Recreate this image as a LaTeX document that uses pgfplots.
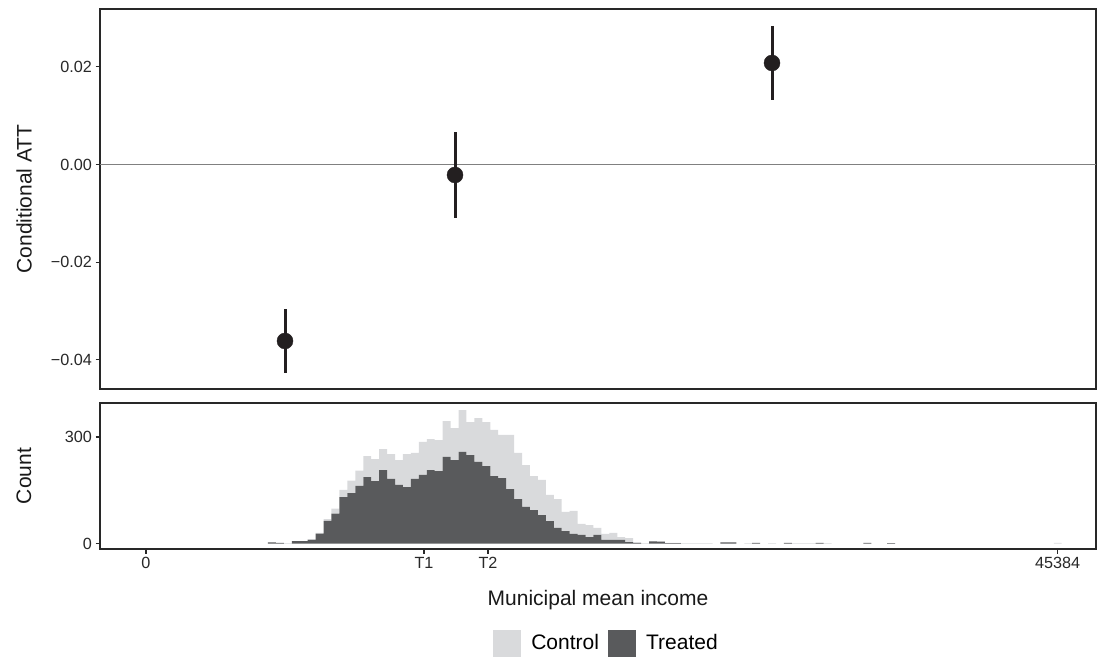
\documentclass[border=0pt]{standalone}
\usepackage{fontspec}
\setmainfont{Liberation Sans}
\usepackage{pgfplots}
\usepackage{pgfplotstable}
\pgfplotsset{compat=1.18}
\definecolor{ctrl}{RGB}{217,218,220}
\definecolor{trt}{RGB}{89,90,92}
\definecolor{ptc}{RGB}{35,31,32}
\definecolor{axc}{RGB}{40,40,40}

% histogram bins: centre, treated count, control count
\pgfplotstableread{
x T C
6270 3 0
6665 2 0
7060 0 1
7455 7 0
7851 7 0
8246 10 2
8641 28 2
9036 64 5
9431 84 14
9826 131 20
10221 142 35
10616 162 43
11012 187 59
11407 176 62
11802 207 59
12197 182 70
12592 165 70
12987 159 93
13383 182 73
13778 193 93
14173 207 87
14568 204 87
14963 244 101
15358 235 90
15754 258 118
16149 249 93
16544 230 123
16939 218 124
17334 190 130
17729 184 122
18124 153 153
18520 125 130
18915 103 118
19310 94 96
19705 80 99
20100 63 74
20495 44 81
20890 35 54
21285 27 65
21681 24 31
22076 18 34
22471 24 20
22866 10 17
23261 10 20
23656 10 8
24051 4 11
24446 1 3
24842 0 1
25237 6 1
25632 5 1
26027 1 1
26422 1 1
26817 0 1
27212 0 1
27608 0 1
28003 0 1
28793 3 0
29188 3 0
29978 0 1
30374 2 0
31164 0 1
31954 2 0
32349 0 1
32744 0 1
33140 0 1
33535 2 0
33930 0 1
35906 2 0
37091 1 0
45384 0 2
}\histdata

\begin{document}
\begin{tikzpicture}[x=1pt,y=1pt]
\useasboundingbox (0,0) rectangle (1097,657);
\pgfplotsset{
  every axis/.append style={
    scale only axis, width=996pt, xmin=-2290, xmax=47290,
    scaled x ticks=false, scaled y ticks=false,
    axis line style={line width=1.1pt, color=axc},
    tick style={line width=1.1pt, color=axc},
    tick align=outside, major tick length=4.5pt,
    xtick pos=bottom, ytick pos=left,
    ticklabel style={font=\fontsize{16.2}{19}\selectfont, text=axc},
    label style={font=\fontsize{21}{25}\selectfont, text=black!90},
  }
}
\begin{axis}[at={(100pt,268pt)}, anchor=south west, height=380pt,
  ymin=-0.04596, ymax=0.03183,
  xtick=\empty,
  ytick={-0.04,-0.02,0,0.02},
  yticklabels={−0.04,−0.02,0.00,0.02},
  ylabel={Conditional ATT},
  ylabel style={at={(axis description cs:-0.0763,0.5)}, anchor=center},
]
\addplot[color=black!50, line width=1.4pt] coordinates {(-2290,0) (47290,0)};
\addplot[ptc, line width=3pt] coordinates {(6919,-0.02964) (6919,-0.04274)};
\addplot[ptc, line width=3pt] coordinates {(15382,0.00665) (15382,-0.01095)};
\addplot[ptc, line width=3pt] coordinates {(31162,0.02835) (31162,0.0132)};
\addplot[only marks, mark=*, mark size=8pt, color=ptc] coordinates {(6919,-0.03613) (15382,-0.00215) (31162,0.02078)};
\end{axis}

\begin{axis}[at={(100pt,108pt)}, anchor=south west, height=146pt,
  ymin=-15.5, ymax=395.8,
  ybar stacked, bar width=395.14, bar shift=0pt,
  ytick={0,300}, yticklabels={0,300},
  xtick={0,13839,17025,45384}, xticklabels={0,T1,T2,45384},
  ylabel={Count},
  ylabel style={at={(axis description cs:-0.0763,0.5)}, anchor=center},
  xlabel={Municipal mean income},
  xlabel style={at={(axis description cs:0.5,-0.39)}, anchor=base},
  legend columns=2,
  legend style={at={(axis description cs:0.5085,-0.644)}, anchor=center,
    draw=none, fill=none, font=\fontsize{21}{25}\selectfont,
    /tikz/every odd column/.append style={column sep=9pt},
    /tikz/every even column/.append style={column sep=7pt}},
]
\addplot[fill=trt, draw=none, forget plot] table[x=x, y=T] {\histdata};
\addplot[fill=ctrl, draw=none, forget plot] table[x=x, y=C] {\histdata};
\addlegendimage{legend image code/.code={\fill[ctrl] (0pt,-13.3pt) rectangle (26.7pt,13.3pt);}}
\addlegendentry{Control}
\addlegendimage{legend image code/.code={\fill[trt] (0pt,-13.3pt) rectangle (26.7pt,13.3pt);}}
\addlegendentry{Treated}
\end{axis}
\end{tikzpicture}
\end{document}
